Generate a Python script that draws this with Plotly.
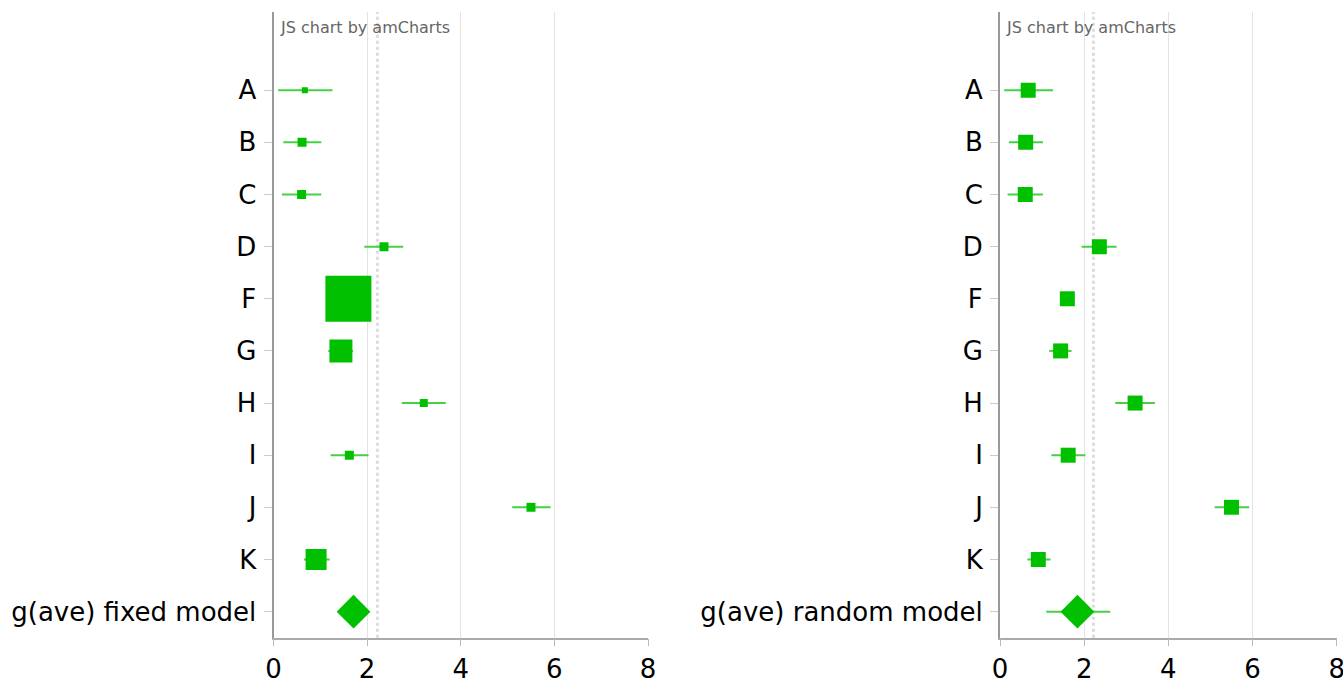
import plotly.graph_objects as go

# ---- data ----
studies = ["A", "B", "C", "D", "F", "G", "H", "I", "J", "K"]
effects = [0.67, 0.61, 0.60, 2.36, 1.60, 1.44, 3.21, 1.62, 5.50, 0.91]
ci_low = [0.10, 0.21, 0.18, 1.94, 1.45, 1.17, 2.74, 1.22, 5.10, 0.65]
ci_high = [1.26, 1.02, 1.02, 2.77, 1.76, 1.70, 3.68, 2.03, 5.92, 1.20]
fixed_weights = [6, 9, 9, 9, 46, 23, 8, 9, 9, 21]
random_weights = [15, 15, 15, 15, 15, 15, 15, 15, 15, 15]

fixed_label = "g(ave) fixed model"
fixed_mean = 1.71
fixed_low = 1.60
fixed_high = 1.82

random_label = "g(ave) random model"
random_mean = 1.84
random_low = 1.10
random_high = 2.62

reference_value = 2.22
x_ticks = [0, 2, 4, 6, 8]

# ---- style ----
W, H = 1343, 681
GREEN = "#00c000"
WHISKER = "#45d045"
FONT = "DejaVu Sans, Verdana, sans-serif"
DIAMOND_SIZE = 26


def px_x(p):
    return p / W


def px_y(p):
    return 1 - p / H


fig = go.Figure()

panels = [
    ("x", "y", fixed_weights, fixed_label, fixed_mean, fixed_low, fixed_high),
    ("x2", "y2", random_weights, random_label, random_mean, random_low, random_high),
]

for xa, ya, weights, slabel, smean, slow, shigh in panels:
    # studies
    fig.add_trace(go.Scatter(
        x=effects, y=studies, xaxis=xa, yaxis=ya, mode="markers",
        marker=dict(symbol="square", size=weights, color=GREEN, opacity=1,
                    line=dict(width=0)),
        error_x=dict(type="data", symmetric=False,
                     array=[h - e for h, e in zip(ci_high, effects)],
                     arrayminus=[e - l for e, l in zip(effects, ci_low)],
                     color=WHISKER, thickness=2, width=0),
        hoverinfo="skip", showlegend=False,
    ))
    # summary
    fig.add_trace(go.Scatter(
        x=[smean], y=[slabel], xaxis=xa, yaxis=ya, mode="markers",
        marker=dict(symbol="diamond", size=DIAMOND_SIZE, color=GREEN, opacity=1,
                    line=dict(width=0)),
        error_x=dict(type="data", symmetric=False,
                     array=[shigh - smean], arrayminus=[smean - slow],
                     color=WHISKER, thickness=2, width=0),
        hoverinfo="skip", showlegend=False,
    ))

ydom = [px_y(637.7), px_y(12)]

xaxis_common = dict(
    range=[0, 8], tickvals=x_ticks, ticktext=[str(t) for t in x_ticks],
    showgrid=True, gridcolor="#e3e3e3", gridwidth=1,
    showline=True, linecolor="#aaaaaa", linewidth=1.5,
    ticks="outside", ticklen=7, tickcolor="#bbbbbb", tickwidth=1,
    tickfont=dict(family=FONT, size=26, color="#000"),
    ticklabeloverflow="allow",
    zeroline=False, fixedrange=True, automargin=False,
)
yaxis_common = dict(
    type="category", range=[10.5, -1.5], domain=ydom,
    showgrid=False, zeroline=False,
    showline=True, linecolor="#999999", linewidth=2,
    ticks="outside", ticklen=8, tickcolor="#cccccc", tickwidth=1,
    tickfont=dict(family=FONT, size=26, color="#000"),
    ticklabelstandoff=2,
    fixedrange=True, automargin=False,
)

fig.update_layout(
    width=W, height=H,
    margin=dict(l=0, r=0, t=0, b=0),
    paper_bgcolor="white", plot_bgcolor="white",
    xaxis=dict(domain=[px_x(273.5), px_x(648)], anchor="y", **xaxis_common),
    yaxis=dict(anchor="x", categoryarray=studies + [fixed_label], **yaxis_common),
    xaxis2=dict(domain=[px_x(1000), px_x(1336.7)], anchor="y2", **xaxis_common),
    yaxis2=dict(anchor="x2", categoryarray=studies + [random_label], **yaxis_common),
    showlegend=False,
)

for xr, yr in [("x", "y"), ("x2", "y2")]:
    fig.add_shape(type="line", xref=xr, yref=yr + " domain",
                  x0=reference_value, x1=reference_value, y0=0, y1=1,
                  line=dict(color="#dcdcdc", width=3, dash="3px,3px"), layer="below")
    fig.add_annotation(text="JS chart by amCharts", xref=xr + " domain", yref="paper",
                       x=0.012, y=px_y(28), xanchor="left", yanchor="middle",
                       showarrow=False, font=dict(family=FONT, size=16, color="#666666"))

fig.write_html("out.html", config={"displayModeBar": False},
               post_script="document.body.style.margin='0';")
